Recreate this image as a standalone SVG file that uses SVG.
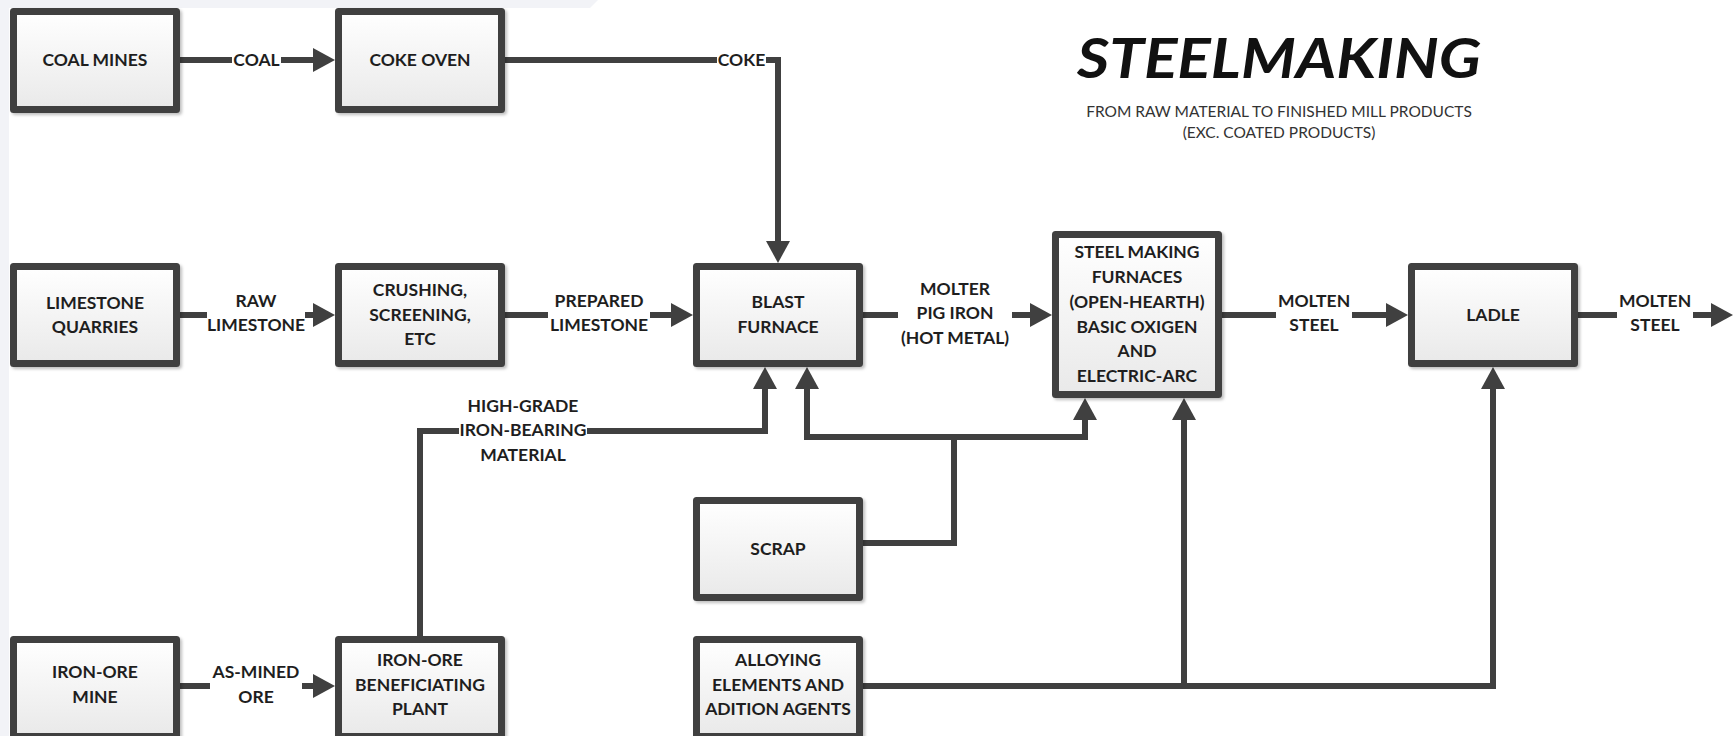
<svg xmlns="http://www.w3.org/2000/svg" width="1735" height="736" viewBox="0 0 1735 736">
<defs>
<linearGradient id="boxfill" x1="0" y1="0" x2="0" y2="1">
<stop offset="0" stop-color="#ffffff"/>
<stop offset="1" stop-color="#e9e9e9"/>
</linearGradient>
<filter id="shadow" x="-10%" y="-10%" width="130%" height="130%">
<feDropShadow dx="2" dy="2" stdDeviation="1.5" flood-color="#000" flood-opacity="0.25"/>
</filter>
<marker id="ah" markerUnits="userSpaceOnUse" markerWidth="24" markerHeight="24" refX="2" refY="12" orient="auto">
<path d="M0,0 L22,12 L0,24 Z" fill="#404040"/>
</marker>
<style>
.box{fill:url(#boxfill);stroke:#404040;stroke-width:7;stroke-linejoin:round;filter:url(#shadow)}
.t{font-family:Lato,"Liberation Sans",sans-serif;font-weight:bold;font-size:17.5px;fill:#1e1e1e;text-anchor:middle}
.conn{fill:none;stroke:#404040;stroke-width:6;stroke-linejoin:miter}
.arr{marker-end:url(#ah)}
.bg{fill:#ffffff}
</style>
</defs>
<rect width="1735" height="736" fill="#ffffff"/>
<path d="M0 0 H598 L590 8 H9 V736 H0 Z" fill="#f2f3f7"/>

<g id="title">
<text x="1279" y="78" font-family="Lato,'Liberation Sans',sans-serif" font-weight="bold" font-style="italic" font-size="56" text-anchor="middle" fill="#111" textLength="404" lengthAdjust="spacingAndGlyphs">STEELMAKING</text>
<text x="1279" y="117" font-family="Lato,'Liberation Sans',sans-serif" font-size="15.5" text-anchor="middle" fill="#333">FROM RAW MATERIAL TO FINISHED MILL PRODUCTS</text>
<text x="1279" y="138" font-family="Lato,'Liberation Sans',sans-serif" font-size="15.5" text-anchor="middle" fill="#333">(EXC. COATED PRODUCTS)</text>
</g>

<g id="connectors">
<path class="conn arr" d="M180 60 H315"/>
<path class="conn arr" d="M505 60 H778 V243"/>
<path class="conn arr" d="M180 315 H315"/>
<path class="conn arr" d="M505 315 H673"/>
<path class="conn arr" d="M863 315 H1032"/>
<path class="conn arr" d="M1222 315 H1388"/>
<path class="conn arr" d="M1578 315 H1713"/>
<path class="conn arr" d="M180 686 H315"/>
<path class="conn arr" d="M420 636 V431 H765 V387"/>
<path class="conn" d="M863 543 H954 V437"/>
<path class="conn arr" d="M954 437 H807 V387"/>
<path class="conn arr" d="M954 437 H1085 V418"/>
<path class="conn arr" d="M863 686 H1493 V387"/>
<path class="conn arr" d="M1184 686 V418"/>
<g id="labels">
<rect class="bg" x="232" y="52" width="49" height="16"/>
<text class="t" x="256.5" y="66">COAL</text>
<rect class="bg" x="717" y="52" width="49" height="16"/>
<text class="t" x="741.5" y="66">COKE</text>
<rect class="bg" x="207" y="306" width="98" height="18"/>
<text class="t" x="256" y="307">RAW</text>
<text class="t" x="256" y="331">LIMESTONE</text>
<rect class="bg" x="548" y="306" width="102" height="18"/>
<text class="t" x="599" y="307">PREPARED</text>
<text class="t" x="599" y="331">LIMESTONE</text>
<rect class="bg" x="898" y="306" width="114" height="18"/>
<text class="t" x="955" y="295">MOLTER</text>
<text class="t" x="955" y="319">PIG IRON</text>
<text class="t" x="955" y="344">(HOT METAL)</text>
<rect class="bg" x="1276" y="306" width="76" height="18"/>
<text class="t" x="1314" y="307">MOLTEN</text>
<text class="t" x="1314" y="331">STEEL</text>
<rect class="bg" x="1617" y="306" width="76" height="18"/>
<text class="t" x="1655" y="307">MOLTEN</text>
<text class="t" x="1655" y="331">STEEL</text>
<rect class="bg" x="210" y="677" width="92" height="18"/>
<text class="t" x="256" y="678">AS-MINED</text>
<text class="t" x="256" y="703">ORE</text>
<rect class="bg" x="459" y="423" width="128" height="16"/>
<text class="t" x="523" y="412">HIGH-GRADE</text>
<text class="t" x="523" y="436">IRON-BEARING</text>
<text class="t" x="523" y="461">MATERIAL</text>
</g>
</g>

<g id="coal-mines"><rect class="box" x="13.5" y="11.5" width="163" height="98"/><text class="t" x="95" y="66">COAL MINES</text></g>
<g id="coke-oven"><rect class="box" x="338.5" y="11.5" width="163" height="98"/><text class="t" x="420" y="66">COKE OVEN</text></g>
<g id="limestone-quarries"><rect class="box" x="13.5" y="266.5" width="163" height="97"/><text class="t" x="95" y="309">LIMESTONE</text><text class="t" x="95" y="333">QUARRIES</text></g>
<g id="crushing"><rect class="box" x="338.5" y="266.5" width="163" height="97"/><text class="t" x="420" y="296">CRUSHING,</text><text class="t" x="420" y="321">SCREENING,</text><text class="t" x="420" y="345">ETC</text></g>
<g id="blast-furnace"><rect class="box" x="696.5" y="266.5" width="163" height="97"/><text class="t" x="778" y="308">BLAST</text><text class="t" x="778" y="333">FURNACE</text></g>
<g id="steel-making-furnaces"><rect class="box" x="1055.5" y="234.5" width="163" height="160"/><text class="t" x="1137" y="258">STEEL MAKING</text><text class="t" x="1137" y="283">FURNACES</text><text class="t" x="1137" y="308">(OPEN-HEARTH)</text><text class="t" x="1137" y="333">BASIC OXIGEN</text><text class="t" x="1137" y="357">AND</text><text class="t" x="1137" y="382">ELECTRIC-ARC</text></g>
<g id="ladle"><rect class="box" x="1411.5" y="266.5" width="163" height="97"/><text class="t" x="1493" y="321">LADLE</text></g>
<g id="scrap"><rect class="box" x="696.5" y="500.5" width="163" height="97"/><text class="t" x="778" y="555">SCRAP</text></g>
<g id="iron-ore-mine"><rect class="box" x="13.5" y="639.5" width="163" height="97"/><text class="t" x="95" y="678">IRON-ORE</text><text class="t" x="95" y="703">MINE</text></g>
<g id="beneficiating-plant"><rect class="box" x="338.5" y="639.5" width="163" height="97"/><text class="t" x="420" y="666">IRON-ORE</text><text class="t" x="420" y="691">BENEFICIATING</text><text class="t" x="420" y="715">PLANT</text></g>
<g id="alloying"><rect class="box" x="696.5" y="639.5" width="163" height="97"/><text class="t" x="778" y="666">ALLOYING</text><text class="t" x="778" y="691">ELEMENTS AND</text><text class="t" x="778" y="715">ADITION AGENTS</text></g>
</svg>
